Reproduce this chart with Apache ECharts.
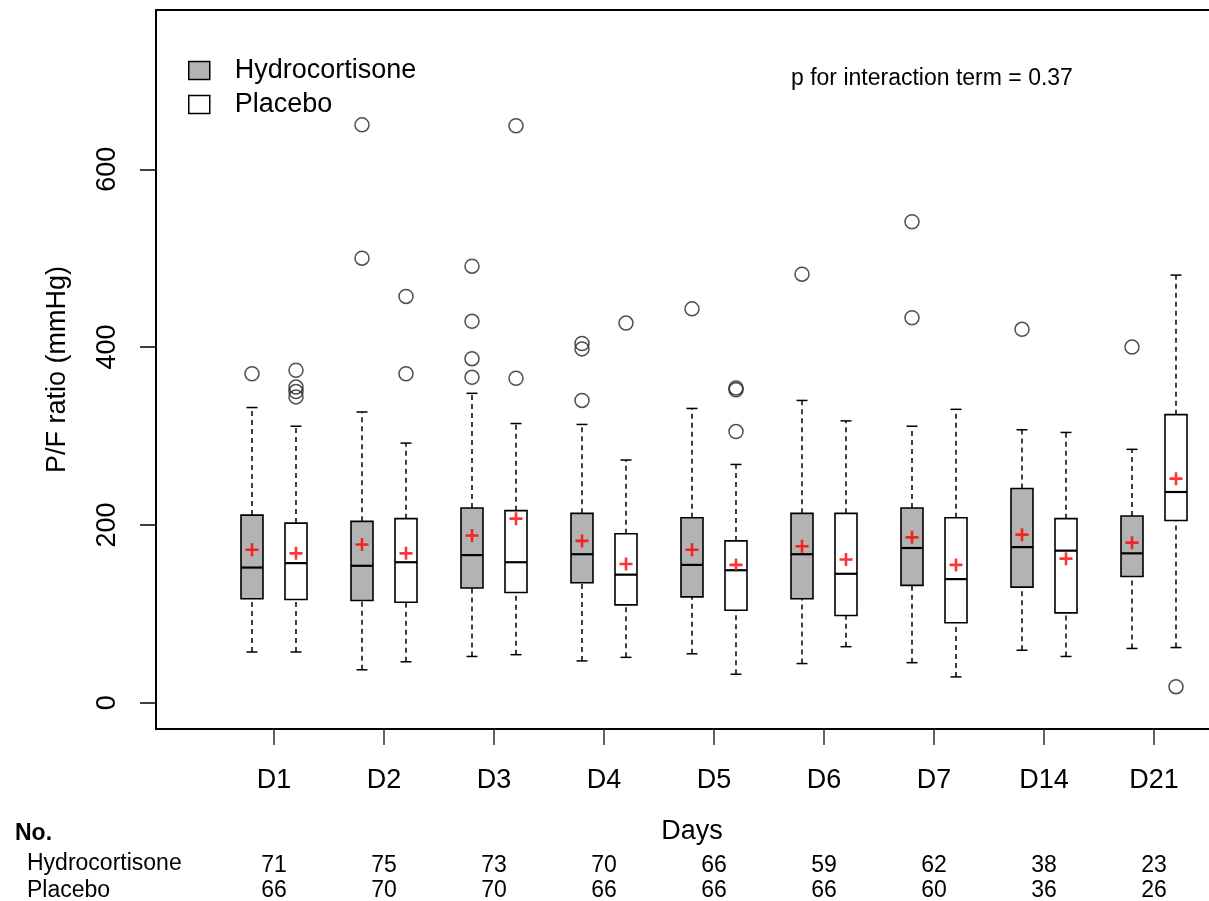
<!DOCTYPE html>
<html><head><meta charset="utf-8">
<script src="https://cdn.jsdelivr.net/npm/echarts@6/dist/echarts.min.js"></script>
<style>html,body{margin:0;padding:0;background:#fff}#c{width:1209px;height:901px}</style>
</head><body><div id="c"></div>
<script>
// ---- data ----
const days = ['D1','D2','D3','D4','D5','D6','D7','D14','D21'];
const yTicks = [0, 200, 400, 600];
const hydroLow    = [57, 37, 52, 47, 55, 44, 45, 59, 61];
const hydroQ1     = [117, 115, 129, 135, 119, 117, 132, 130, 142];
const hydroMedian = [152, 154, 166, 167, 155, 167, 174, 175, 168];
const hydroQ3     = [211, 204, 219, 213, 208, 213, 219, 241, 210];
const hydroHigh   = [332, 327, 348, 313, 331, 340, 311, 307, 285];
const hydroMean   = [172, 178, 188, 182, 172, 176, 186, 189, 180];
const hydroOutliers = [[370], [500, 650], [491, 429, 387, 366], [404, 398, 340], [443], [482], [541, 433], [420], [400]];
const placeboLow    = [57, 46, 54, 51, 32, 63, 29, 52, 62];
const placeboQ1     = [116, 113, 124, 110, 104, 98, 90, 101, 205];
const placeboMedian = [157, 158, 158, 144, 149, 145, 139, 171, 237];
const placeboQ3     = [202, 207, 216, 190, 182, 213, 208, 207, 324];
const placeboHigh   = [311, 292, 314, 273, 268, 317, 330, 304, 481];
const placeboMean   = [168, 168, 207, 156, 155, 161, 155, 162, 252];
const placeboOutliers = [[374, 355, 350, 344], [457, 370], [649, 365], [427], [354, 352, 305], [], [], [], [18]];
const nHydro   = [71, 75, 73, 70, 66, 59, 62, 38, 23];
const nPlacebo = [66, 70, 70, 66, 66, 66, 60, 36, 26];
const pText = 'p for interaction term = 0.37';

// ---- layout / style ----
const FONT = 'Liberation Sans, Arial, sans-serif';
const OFF = 0.2;      // group offset from day tick
const BOX_W = 0.2;    // box width in axis units
const XMIN = -0.0727, XMAX = 9.5;
const YMIN = -29.6, YMAX = 779.2;
const dayPos = days.map((d, i) => i + 1);
const GREY = '#b3b3b3';

function boxData(lo, q1, md, q3, hi, shift) {
  return days.map((d, i) => [i + 1 + shift, lo[i], q1[i], md[i], q3[i], hi[i]]);
}
function outData(outs, shift) {
  const r = [];
  outs.forEach((arr, i) => arr.forEach(v => r.push([i + 1 + shift, v])));
  return r;
}
function meanData(m, shift) { return m.map((v, i) => [i + 1 + shift, v]); }

function renderBox(params, api) {
  const x = api.value(0);
  const lo = api.coord([x, api.value(1)]);
  const q1 = api.coord([x, api.value(2)]);
  const md = api.coord([x, api.value(3)]);
  const q3 = api.coord([x, api.value(4)]);
  const hi = api.coord([x, api.value(5)]);
  const half = api.size([BOX_W, 0])[0] / 2;
  const cap = half / 2;
  const fill = api.visual('color');
  const dash = { stroke: '#000', lineWidth: 1.5, lineDash: [5, 4] };
  const solid = { stroke: '#000', lineWidth: 1.5 };
  return { type: 'group', children: [
    { type: 'line', shape: { x1: lo[0], y1: lo[1], x2: q1[0], y2: q1[1] }, style: dash },
    { type: 'line', shape: { x1: q3[0], y1: q3[1], x2: hi[0], y2: hi[1] }, style: dash },
    { type: 'line', shape: { x1: lo[0] - cap, y1: lo[1], x2: lo[0] + cap, y2: lo[1] }, style: solid },
    { type: 'line', shape: { x1: hi[0] - cap, y1: hi[1], x2: hi[0] + cap, y2: hi[1] }, style: solid },
    { type: 'rect', shape: { x: q3[0] - half, y: q3[1], width: 2 * half, height: q1[1] - q3[1] },
      style: { fill: fill, stroke: '#000', lineWidth: 1.6 } },
    { type: 'line', shape: { x1: md[0] - half, y1: md[1], x2: md[0] + half, y2: md[1] },
      style: { stroke: '#000', lineWidth: 2.2 } }
  ]};
}

const PLUS = 'path://M4,0H6V4H10V6H6V10H4V6H0V4H4Z';
const outStyle = { color: 'rgba(0,0,0,0)', borderColor: '#222', borderWidth: 1.5 };
const frameLine = { show: true, onZero: false, lineStyle: { color: '#000', width: 2 } };

function hiddenY(gi) {
  return { type: 'value', gridIndex: gi, min: 0, max: 1, show: false };
}
function countAxis(gi, arr) {
  return {
    type: 'value', gridIndex: gi, min: XMIN, max: XMAX, position: 'bottom',
    axisLine: { show: false, onZero: false }, axisTick: { show: false }, splitLine: { show: false },
    axisLabel: { customValues: dayPos, margin: 1, color: '#000', fontSize: 23, fontFamily: FONT,
      formatter: v => String(arr[Math.round(v) - 1]) }
  };
}

const option = {
  animation: false,
  backgroundColor: '#fff',
  textStyle: { fontFamily: FONT },
  title: { text: pText, left: 791, top: 67, padding: 0,
    textStyle: { fontSize: 23, fontWeight: 'normal', color: '#000', fontFamily: FONT } },
  legend: {
    orient: 'vertical', left: 188, top: 57, padding: 0, itemWidth: 21, itemHeight: 18, itemGap: 7,
    icon: 'rect', selectedMode: false,
    textStyle: { fontSize: 27, color: '#000', fontFamily: FONT, padding: [0, 0, 0, 20] },
    data: [
      { name: 'Hydrocortisone', itemStyle: { color: GREY, borderColor: '#000', borderWidth: 1.5 } },
      { name: 'Placebo', itemStyle: { color: '#fff', borderColor: '#000', borderWidth: 1.5 } }
    ]
  },
  grid: [
    { left: 156, right: 0, top: 10, bottom: 172 },
    { left: 156, right: 0, top: 852, height: 1 },
    { left: 156, right: 0, top: 878, height: 1 }
  ],
  xAxis: [
    {
      type: 'value', gridIndex: 0, min: XMIN, max: XMAX, position: 'bottom',
      name: 'Days', nameLocation: 'middle', nameGap: 89,
      nameTextStyle: { fontSize: 27, color: '#000', fontFamily: FONT, padding: [0, 0, 0, 19] },
      axisLine: frameLine, splitLine: { show: false },
      axisTick: { show: true, customValues: dayPos, length: 16, lineStyle: { color: '#333', width: 1.5 } },
      axisLabel: { customValues: dayPos, margin: 38, fontSize: 27, color: '#000', fontFamily: FONT,
        formatter: v => days[Math.round(v) - 1] }
    },
    {
      type: 'value', gridIndex: 0, min: XMIN, max: XMAX, position: 'top',
      axisLine: frameLine, axisTick: { show: false }, axisLabel: { show: false }, splitLine: { show: false }
    },
    countAxis(1, nHydro),
    countAxis(2, nPlacebo)
  ],
  yAxis: [
    {
      type: 'value', gridIndex: 0, min: YMIN, max: YMAX,
      name: 'P/F ratio (mmHg)', nameLocation: 'middle', nameRotate: 90, nameGap: 85,
      nameTextStyle: { fontSize: 27, color: '#000', fontFamily: FONT },
      axisLine: frameLine, splitLine: { show: false },
      axisTick: { show: true, customValues: yTicks, length: 16, lineStyle: { color: '#000', width: 1.5 } },
      axisLabel: { customValues: yTicks, rotate: 90, margin: 35, fontSize: 27, color: '#000', fontFamily: FONT }
    },
    hiddenY(1), hiddenY(2)
  ],
  graphic: [
    { type: 'text', left: 15, top: 822, style: { text: 'No.', font: 'bold 23px ' + FONT, fill: '#000' } },
    { type: 'text', left: 27, top: 852, style: { text: 'Hydrocortisone', font: '23px ' + FONT, fill: '#000' } },
    { type: 'text', left: 27, top: 879, style: { text: 'Placebo', font: '23px ' + FONT, fill: '#000' } }
  ],
  series: [
    { name: 'Hydrocortisone', type: 'custom', xAxisIndex: 0, yAxisIndex: 0, renderItem: renderBox,
      itemStyle: { color: GREY }, encode: { x: 0, y: [1, 2, 3, 4, 5] },
      data: boxData(hydroLow, hydroQ1, hydroMedian, hydroQ3, hydroHigh, -OFF), z: 2 },
    { name: 'Placebo', type: 'custom', xAxisIndex: 0, yAxisIndex: 0, renderItem: renderBox,
      itemStyle: { color: '#fff' }, encode: { x: 0, y: [1, 2, 3, 4, 5] },
      data: boxData(placeboLow, placeboQ1, placeboMedian, placeboQ3, placeboHigh, OFF), z: 2 },
    { name: 'Hydrocortisone outliers', type: 'scatter', xAxisIndex: 0, yAxisIndex: 0, symbol: 'circle', symbolSize: 14,
      itemStyle: outStyle, data: outData(hydroOutliers, -OFF), z: 3 },
    { name: 'Placebo outliers', type: 'scatter', xAxisIndex: 0, yAxisIndex: 0, symbol: 'circle', symbolSize: 14,
      itemStyle: outStyle, data: outData(placeboOutliers, OFF), z: 3 },
    { name: 'Hydrocortisone mean', type: 'scatter', xAxisIndex: 0, yAxisIndex: 0, symbol: PLUS, symbolSize: 13,
      itemStyle: { color: '#ff0000' }, data: meanData(hydroMean, -OFF), z: 4 },
    { name: 'Placebo mean', type: 'scatter', xAxisIndex: 0, yAxisIndex: 0, symbol: PLUS, symbolSize: 13,
      itemStyle: { color: '#ff0000' }, data: meanData(placeboMean, OFF), z: 4 }
  ]
};

const chart = echarts.init(document.getElementById('c'), null, { renderer: 'canvas' });
chart.setOption(option);
</script>
</body></html>
